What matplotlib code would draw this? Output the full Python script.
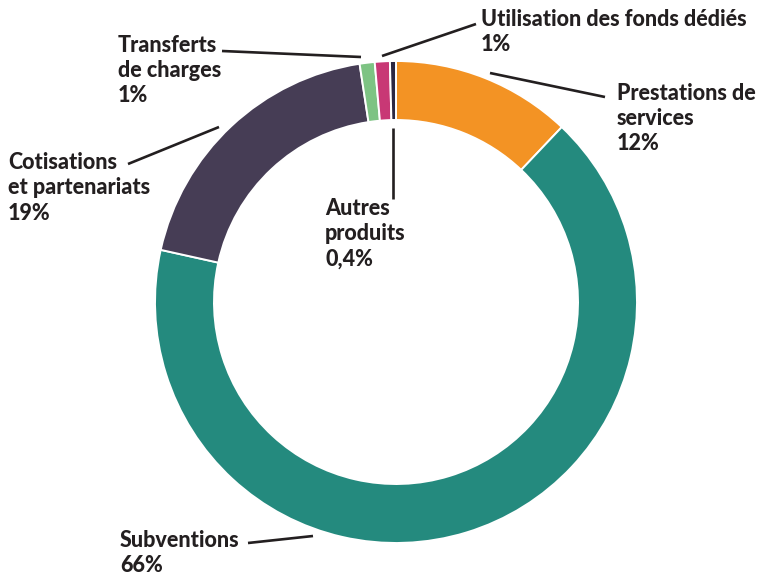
import matplotlib
matplotlib.use("Agg")
from matplotlib import pyplot as plt

# Data
categories = ["Prestations de\nservices", "Subventions", "Cotisations\net partenariats",
              "Transferts\nde charges", "Utilisation des fonds dédiés", "Autres\nproduits"]
values = [12, 66, 19, 1, 1, 0.4]
pct_labels = ["12%", "66%", "19%", "1%", "1%", "0,4%"]
colors = ["#F39324", "#248A7E", "#463D55", "#7DC383", "#C83875", "#2B2741"]

W, H = 762, 576
TXT = "#231F20"


def py(y):
    # image rows (top = 0) to axis units
    return H - y


fig = plt.figure(figsize=(W / 100, H / 100), dpi=100)
ax = fig.add_axes([0, 0, 1, 1])

ax.pie(values, colors=colors, startangle=90, counterclock=False,
       center=(396, py(302)), radius=241, frame=False,
       wedgeprops=dict(width=59, edgecolor="white", linewidth=1.4))
ax.set_xlim(0, W)
ax.set_ylim(0, H)
ax.set_aspect("equal")
ax.axis("off")

# label block top-left corners and leader lines, in image pixels
label_pos = [(617, 83), (120, 530), (8, 152), (118, 35), (481, 9), (325, 198)]
leaders = [((490, 73), (605, 97)),
           ((248, 543), (313, 536)),
           ((128, 164), (219, 127)),
           ((222, 51), (361, 57)),
           ((382, 56), (476, 24)),
           ((393, 128), (393, 199))]

for cat, pct, (x, y), (p0, p1) in zip(categories, pct_labels, label_pos, leaders):
    ax.text(x, py(y), cat + "\n" + pct, ha="left", va="top", fontsize=15.5,
            fontweight="black", family="Lato", color=TXT, linespacing=1.25)
    ax.plot([p0[0], p1[0]], [py(p0[1]), py(p1[1])], color=TXT, lw=1.9,
            solid_capstyle="butt")

fig.savefig("out.png", dpi=100)
